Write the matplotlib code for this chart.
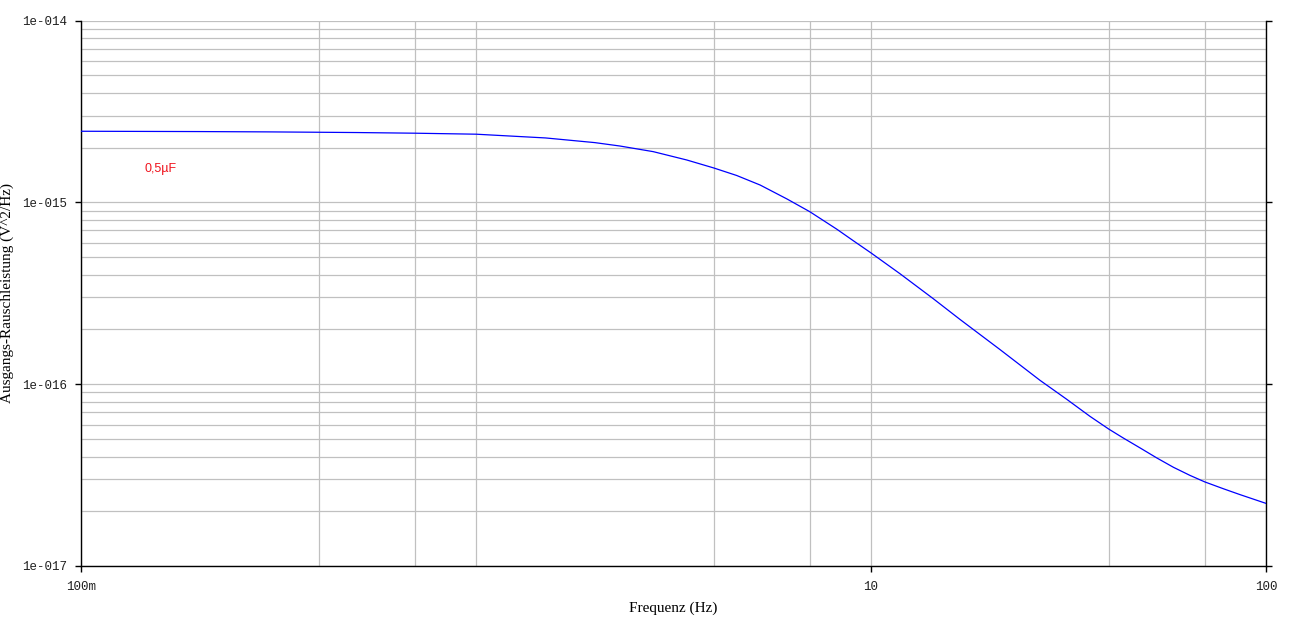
import matplotlib
matplotlib.use("Agg")
import matplotlib.pyplot as plt
from matplotlib.ticker import FixedLocator, FixedFormatter, NullFormatter

# --- data ---
freq_hz = [0.1, 0.2, 0.3, 0.5, 0.7, 1.0, 1.5, 2.0, 2.315, 2.81, 3.415, 4.0, 4.57,
           5.24, 6.12, 7.0, 8.19, 9.02, 10.0, 11.84, 14.38, 16.8, 21.21, 26.78,
           31.29, 35.85, 40.0, 43.5, 48.0, 52.9, 58.3, 64.2, 70.0, 78.0, 85.9, 100.0]
noise_power = [2.46e-15, 2.45e-15, 2.44e-15, 2.42e-15, 2.40e-15, 2.37e-15, 2.26e-15,
               2.13e-15, 2.04e-15, 1.90e-15, 1.71e-15, 1.545e-15, 1.405e-15,
               1.245e-15, 1.045e-15, 0.888e-15, 0.712e-15, 0.615e-15, 0.527e-15,
               4.05e-16, 2.95e-16, 2.27e-16, 1.55e-16, 1.05e-16, 0.826e-16, 0.665e-16,
               0.566e-16, 0.506e-16, 0.446e-16, 0.393e-16, 0.349e-16, 0.315e-16,
               0.29e-16, 0.266e-16, 0.247e-16, 0.221e-16]

x_major_ticks = [0.1, 10, 100]
x_major_labels = ["100m", "10", "100"]
x_grid_minor = [0.4, 0.7, 1, 4, 7, 40, 70]
y_major_ticks = [1e-17, 1e-16, 1e-15, 1e-14]
y_major_labels = ["1e-017", "1e-016", "1e-015", "1e-014"]
y_minor_ticks = [m * d for d in [1e-17, 1e-16, 1e-15] for m in range(2, 10)]

series_label = "0,5µF"
x_label = "Frequenz (Hz)"
y_label = "Ausgangs-Rauschleistung (V^2/Hz)"

W, H = 1295, 618
fig = plt.figure(figsize=(W / 100, H / 100), dpi=100)
ax = fig.add_axes([81 / W, 52 / H, 1185 / W, 545.5 / H])

ax.set_xscale("log")
ax.set_yscale("log")
ax.set_xlim(0.1, 100)
ax.set_ylim(1e-17, 1e-14)

ax.plot(freq_hz, noise_power, color="#0000ff", linewidth=0.9, zorder=3)

ax.xaxis.set_major_locator(FixedLocator(x_major_ticks))
ax.xaxis.set_major_formatter(FixedFormatter(x_major_labels))
ax.xaxis.set_minor_locator(FixedLocator(x_grid_minor))
ax.xaxis.set_minor_formatter(NullFormatter())
ax.yaxis.set_major_locator(FixedLocator(y_major_ticks))
ax.yaxis.set_major_formatter(FixedFormatter(y_major_labels))
ax.yaxis.set_minor_locator(FixedLocator(y_minor_ticks))
ax.yaxis.set_minor_formatter(NullFormatter())

ax.set_axisbelow(True)
ax.grid(True, which="both", color="#c0c0c0", linewidth=0.9)

for s in ["left", "bottom", "right"]:
    ax.spines[s].set_color("black")
    ax.spines[s].set_linewidth(1.0)
ax.spines["top"].set_visible(False)

ax.tick_params(axis="both", which="major", length=4, width=1, color="black",
               direction="out", labelsize=9, labelcolor="#202020")
ax.tick_params(axis="y", which="major", right=True, labelright=False, pad=6)
ax.tick_params(axis="x", which="major", pad=7)
ax.tick_params(which="minor", length=0)
for lab in ax.get_xticklabels() + ax.get_yticklabels():
    lab.set_fontfamily("Liberation Mono")

ax.text((144.3 - 81) / 1185, (566 - 169) / 545.5, series_label, transform=ax.transAxes,
        color="#f0141e", fontsize=9, family="Liberation Sans", ha="left", va="center")

fig.text((81 + 1266) / 2 / W, (618 - 608) / H, x_label, family="Liberation Serif",
         fontsize=11, ha="center", va="center", color="black")
fig.text(7 / W, (618 - 293) / H, y_label, family="Liberation Serif", fontsize=11,
         rotation=90, ha="center", va="center", color="black")

fig.savefig("out.png", dpi=100)
